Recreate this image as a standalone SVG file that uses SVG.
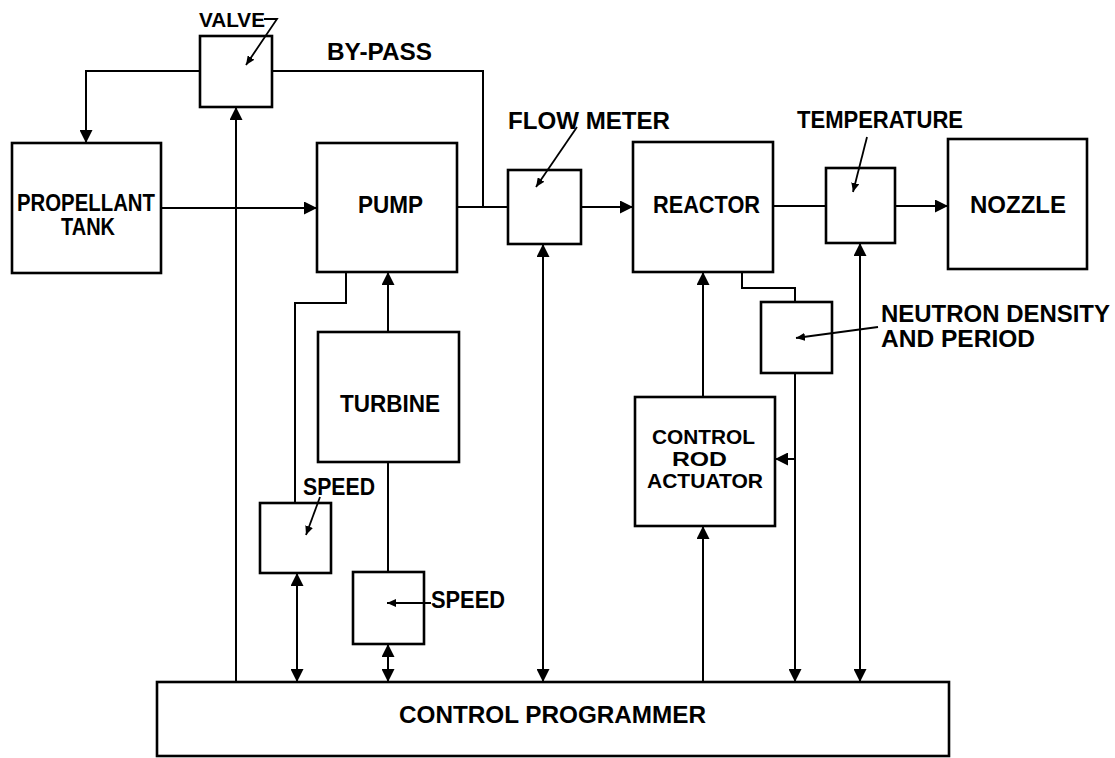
<svg xmlns="http://www.w3.org/2000/svg" width="1115" height="758" viewBox="0 0 1115 758">
<style>
.box{fill:none;stroke:#000;stroke-width:2.6}
.ln{fill:none;stroke:#000;stroke-width:2}
.pt{fill:none;stroke:#000;stroke-width:1.8}
text{font-family:"Liberation Sans",Arial,sans-serif;font-weight:bold;font-size:23px;fill:#000}
.sm{font-size:21px}
</style>
<defs>
<marker id="ah" markerUnits="userSpaceOnUse" markerWidth="14" markerHeight="13" refX="13" refY="6.5" orient="auto-start-reverse">
<path d="M0,0 L13,6.5 L0,13 z" fill="#000"/>
</marker>
<marker id="sa" markerUnits="userSpaceOnUse" markerWidth="10" markerHeight="8" refX="9" refY="4" orient="auto">
<path d="M0,0 L9,4 L0,8 z" fill="#000"/>
</marker>
</defs>
<rect width="1115" height="758" fill="#fff"/>

<g id="valve"><rect class="box" x="200" y="36" width="72" height="71"/>
<text class="sm" x="199" y="27" textLength="66" lengthAdjust="spacingAndGlyphs">VALVE</text></g>
<g id="bypass-label"><text x="327" y="60" textLength="105" lengthAdjust="spacingAndGlyphs">BY-PASS</text></g>
<g id="tank"><rect class="box" x="12" y="143" width="149" height="130"/>
<text x="17" y="211" textLength="138" lengthAdjust="spacingAndGlyphs">PROPELLANT</text>
<text x="61" y="235" textLength="54" lengthAdjust="spacingAndGlyphs">TANK</text></g>
<g id="pump"><rect class="box" x="317" y="143" width="140" height="129"/>
<text x="358" y="213" textLength="65" lengthAdjust="spacingAndGlyphs">PUMP</text></g>
<g id="flowmeter"><rect class="box" x="508" y="170" width="73" height="74"/>
<text x="508" y="129" textLength="162" lengthAdjust="spacingAndGlyphs">FLOW METER</text></g>
<g id="reactor"><rect class="box" x="633" y="142" width="140" height="130"/>
<text x="653" y="213" textLength="107" lengthAdjust="spacingAndGlyphs">REACTOR</text></g>
<g id="temperature"><rect class="box" x="826" y="168" width="69" height="75"/>
<text x="797" y="128" textLength="166" lengthAdjust="spacingAndGlyphs">TEMPERATURE</text></g>
<g id="nozzle"><rect class="box" x="948" y="139" width="139" height="130"/>
<text x="970" y="213" textLength="96" lengthAdjust="spacingAndGlyphs">NOZZLE</text></g>
<g id="neutron"><rect class="box" x="761" y="302" width="71" height="71"/>
<text x="881" y="322" textLength="229" lengthAdjust="spacingAndGlyphs">NEUTRON DENSITY</text>
<text x="881" y="347" textLength="154" lengthAdjust="spacingAndGlyphs">AND PERIOD</text></g>
<g id="turbine"><rect class="box" x="318" y="332" width="141" height="130"/>
<text x="340" y="412" textLength="100" lengthAdjust="spacingAndGlyphs">TURBINE</text></g>
<g id="actuator"><rect class="box" x="635" y="397" width="140" height="129"/>
<text class="sm" x="652" y="444" textLength="103" lengthAdjust="spacingAndGlyphs">CONTROL</text>
<text class="sm" x="672" y="466" textLength="55" lengthAdjust="spacingAndGlyphs">ROD</text>
<text class="sm" x="647" y="488" textLength="116" lengthAdjust="spacingAndGlyphs">ACTUATOR</text></g>
<g id="speed1"><rect class="box" x="260" y="503" width="71" height="70"/>
<text x="303" y="495" textLength="72" lengthAdjust="spacingAndGlyphs">SPEED</text></g>
<g id="speed2"><rect class="box" x="353" y="572" width="71" height="72"/>
<text x="431" y="608" textLength="74" lengthAdjust="spacingAndGlyphs">SPEED</text></g>
<g id="programmer"><rect class="box" x="157" y="682" width="792" height="74"/>
<text x="399" y="723" textLength="307" lengthAdjust="spacingAndGlyphs">CONTROL PROGRAMMER</text></g>

<g id="connectors">
<path class="ln" d="M200,71 H86 V143" marker-end="url(#ah)"/>
<path class="ln" d="M272,71 H483 V207"/>
<path class="ln" d="M161,208 H317" marker-end="url(#ah)"/>
<path class="ln" d="M457,207 H508"/>
<path class="ln" d="M581,207 H633" marker-end="url(#ah)"/>
<path class="ln" d="M773,206 H826"/>
<path class="ln" d="M895,206 H948" marker-end="url(#ah)"/>
<path class="ln" d="M236,682 V107" marker-end="url(#ah)"/>
<path class="ln" d="M346,272 V303 H295 V503"/>
<path class="ln" d="M388,332 V272" marker-end="url(#ah)"/>
<path class="ln" d="M388,462 V572"/>
<path class="ln" d="M297,573 V682" marker-start="url(#ah)" marker-end="url(#ah)"/>
<path class="ln" d="M388,644 V682" marker-start="url(#ah)" marker-end="url(#ah)"/>
<path class="ln" d="M543,244 V682" marker-start="url(#ah)" marker-end="url(#ah)"/>
<path class="ln" d="M742,272 V288 H795 V302"/>
<path class="ln" d="M703,397 V272" marker-end="url(#ah)"/>
<path class="ln" d="M703,682 V526" marker-end="url(#ah)"/>
<path class="ln" d="M795,373 V682" marker-end="url(#ah)"/>
<path class="ln" d="M795,459 H775" marker-end="url(#ah)"/>
<path class="ln" d="M860,243 V682" marker-start="url(#ah)" marker-end="url(#ah)"/>
<path class="pt" d="M264,19 H277 L246,65" marker-end="url(#sa)"/>
<path class="pt" d="M577,127 L536,187" marker-end="url(#sa)"/>
<path class="pt" d="M867,137 L853,192" marker-end="url(#sa)"/>
<path class="pt" d="M878,327 L796,338" marker-end="url(#sa)"/>
<path class="pt" d="M320,497 L306,535" marker-end="url(#sa)"/>
<path class="pt" d="M431,603 H387" marker-end="url(#sa)"/>
</g>
</svg>
